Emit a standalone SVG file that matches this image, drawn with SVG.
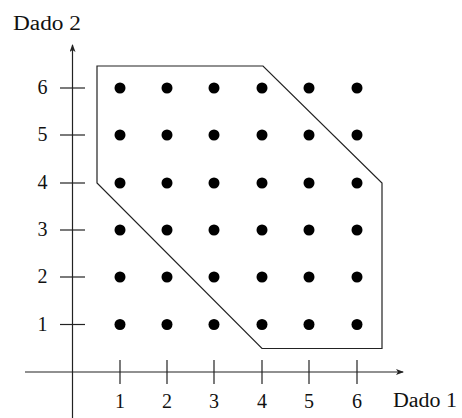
<svg xmlns="http://www.w3.org/2000/svg" width="462" height="418" viewBox="0 0 462 418">
<style>
.ln{stroke:#222;stroke-width:1.2;fill:none}
.t{font-family:"Liberation Serif",serif;font-size:20px;fill:#111}
.d{fill:#000}
</style>
<defs>
<marker id="ah" markerWidth="8" markerHeight="6" refX="7" refY="3" orient="auto" markerUnits="userSpaceOnUse">
<path d="M0,0 L8,3 L0,6 L2,3 Z" fill="#222"/>
</marker>
</defs>
<rect width="462" height="418" fill="#fff"/>
<g id="axes">
<line class="ln" x1="72.5" y1="418" x2="72.5" y2="45" marker-end="url(#ah)"/>
<line class="ln" x1="25" y1="372" x2="403" y2="372" marker-end="url(#ah)"/>
<g id="yticks">
<line class="ln" x1="60" y1="88" x2="85" y2="88"/>
<line class="ln" x1="60" y1="135" x2="85" y2="135"/>
<line class="ln" x1="60" y1="183" x2="85" y2="183"/>
<line class="ln" x1="60" y1="230" x2="85" y2="230"/>
<line class="ln" x1="60" y1="277" x2="85" y2="277"/>
<line class="ln" x1="60" y1="324.5" x2="85" y2="324.5"/>
</g>
<g id="xticks">
<line class="ln" x1="120" y1="360" x2="120" y2="384"/>
<line class="ln" x1="167" y1="360" x2="167" y2="384"/>
<line class="ln" x1="214" y1="360" x2="214" y2="384"/>
<line class="ln" x1="262" y1="360" x2="262" y2="384"/>
<line class="ln" x1="309" y1="360" x2="309" y2="384"/>
<line class="ln" x1="357" y1="360" x2="357" y2="384"/>
</g>
</g>
<g id="labels">
<text class="t" x="13" y="30" textLength="68" lengthAdjust="spacingAndGlyphs">Dado 2</text>
<text class="t" x="393" y="407" textLength="64" lengthAdjust="spacingAndGlyphs">Dado 1</text>
<text class="t" x="42.5" y="94" text-anchor="middle">6</text>
<text class="t" x="42.5" y="141" text-anchor="middle">5</text>
<text class="t" x="42.5" y="189" text-anchor="middle">4</text>
<text class="t" x="42.5" y="236" text-anchor="middle">3</text>
<text class="t" x="42.5" y="283" text-anchor="middle">2</text>
<text class="t" x="42.5" y="330.5" text-anchor="middle">1</text>
<text class="t" x="120" y="408" text-anchor="middle">1</text>
<text class="t" x="167" y="408" text-anchor="middle">2</text>
<text class="t" x="214" y="408" text-anchor="middle">3</text>
<text class="t" x="262" y="408" text-anchor="middle">4</text>
<text class="t" x="309" y="408" text-anchor="middle">5</text>
<text class="t" x="357" y="408" text-anchor="middle">6</text>
</g>
<g id="region">
<polygon class="ln" points="97,66 263,66 382,183 382,348.5 262,348.5 97,183"/>
</g>
<g id="dots">
<g id="row6"><circle class="d" cx="120" cy="88" r="5.5"/><circle class="d" cx="167" cy="88" r="5.5"/><circle class="d" cx="214" cy="88" r="5.5"/><circle class="d" cx="262" cy="88" r="5.5"/><circle class="d" cx="309" cy="88" r="5.5"/><circle class="d" cx="357" cy="88" r="5.5"/></g>
<g id="row5"><circle class="d" cx="120" cy="135" r="5.5"/><circle class="d" cx="167" cy="135" r="5.5"/><circle class="d" cx="214" cy="135" r="5.5"/><circle class="d" cx="262" cy="135" r="5.5"/><circle class="d" cx="309" cy="135" r="5.5"/><circle class="d" cx="357" cy="135" r="5.5"/></g>
<g id="row4"><circle class="d" cx="120" cy="183" r="5.5"/><circle class="d" cx="167" cy="183" r="5.5"/><circle class="d" cx="214" cy="183" r="5.5"/><circle class="d" cx="262" cy="183" r="5.5"/><circle class="d" cx="309" cy="183" r="5.5"/><circle class="d" cx="357" cy="183" r="5.5"/></g>
<g id="row3"><circle class="d" cx="120" cy="230" r="5.5"/><circle class="d" cx="167" cy="230" r="5.5"/><circle class="d" cx="214" cy="230" r="5.5"/><circle class="d" cx="262" cy="230" r="5.5"/><circle class="d" cx="309" cy="230" r="5.5"/><circle class="d" cx="357" cy="230" r="5.5"/></g>
<g id="row2"><circle class="d" cx="120" cy="277" r="5.5"/><circle class="d" cx="167" cy="277" r="5.5"/><circle class="d" cx="214" cy="277" r="5.5"/><circle class="d" cx="262" cy="277" r="5.5"/><circle class="d" cx="309" cy="277" r="5.5"/><circle class="d" cx="357" cy="277" r="5.5"/></g>
<g id="row1"><circle class="d" cx="120" cy="324.5" r="5.5"/><circle class="d" cx="167" cy="324.5" r="5.5"/><circle class="d" cx="214" cy="324.5" r="5.5"/><circle class="d" cx="262" cy="324.5" r="5.5"/><circle class="d" cx="309" cy="324.5" r="5.5"/><circle class="d" cx="357" cy="324.5" r="5.5"/></g>
</g>
</svg>
